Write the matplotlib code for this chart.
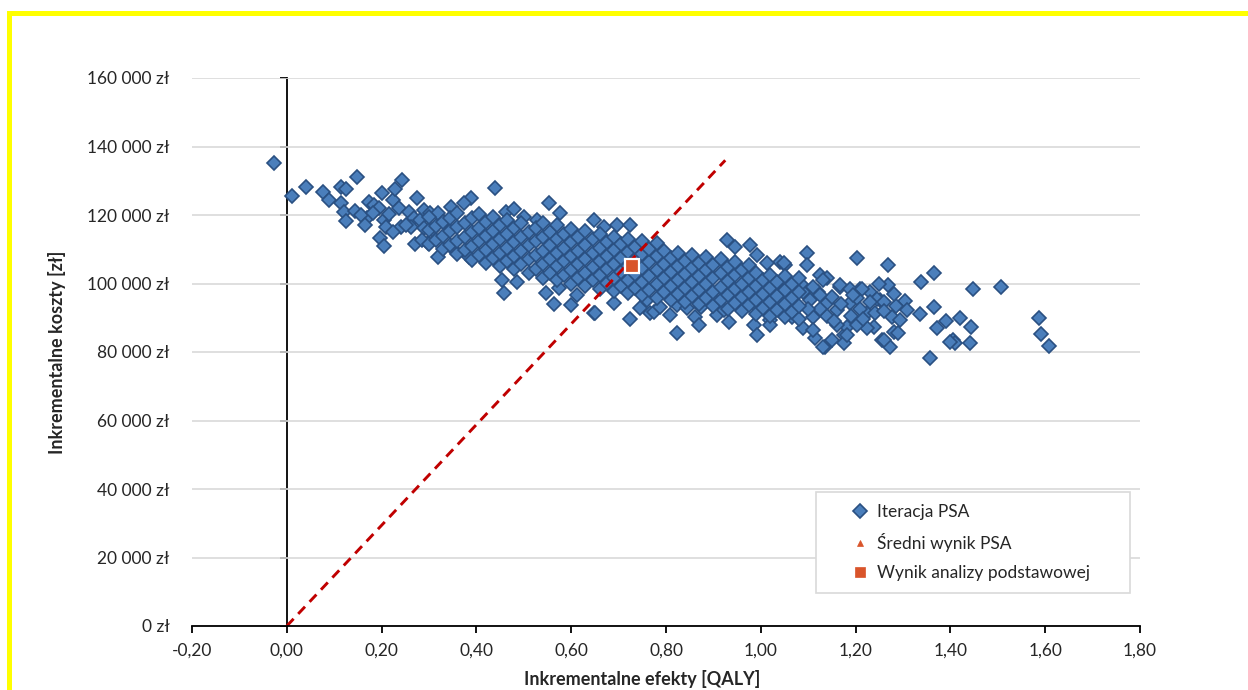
import matplotlib
matplotlib.use('Agg')
import matplotlib.pyplot as plt
from matplotlib.patches import Rectangle
from matplotlib.ticker import FuncFormatter, FixedLocator

plt.rcParams['font.family'] = ['Lato', 'DejaVu Sans']

# ---------------- data (QALY, cost in thousand zł) ----------------
# individually readable PSA iterations (edges / outliers of the cloud)
edge_x = [-0.027, 0.012, 0.040, 0.077, 0.089, 0.114, 0.124, 0.148, 0.114, 0.121,
          0.124, 0.144, 0.170, 0.173, 0.183, 0.195, 0.200, 0.196, 0.205, 0.205,
          0.209, 0.223, 0.228, 0.244, 0.237, 0.240, 0.258, 0.274, 0.268, 0.281,
          0.289, 0.270, 0.297, 0.303, 0.307, 0.318, 0.261, 0.289, 0.286, 0.156,
          0.166, 0.181, 0.215, 0.223, 0.251,
          0.440, 0.553, 0.388, 0.374, 0.346, 0.318, 0.332, 0.462, 0.479, 0.500,
          0.528, 0.577, 0.648, 0.669, 0.697, 0.724,
          0.356, 0.384, 0.458, 0.455, 0.486, 0.546, 0.563, 0.599, 0.648, 0.613,
          0.574, 0.651, 0.690, 0.725, 0.745, 0.767, 0.774, 0.823, 0.809, 0.862,
          0.869, 0.908, 0.932, 0.985, 0.992, 1.020, 1.090, 1.115, 1.136, 1.150,
          1.175, 1.182, 0.823, 0.844, 0.788, 0.760,
          0.929, 0.946, 0.978, 0.992, 1.097, 1.097, 1.203, 1.269, 1.269, 1.041,
          1.013, 1.052, 1.125, 1.139, 1.168, 1.210, 1.231, 1.252, 1.277, 1.280,
          1.273, 1.255, 1.238, 1.224, 1.189, 1.161, 1.139, 1.111, 1.104, 1.076,
          1.069, 1.041, 1.034, 1.013, 0.992, 0.964, 0.950, 0.922, 0.901, 0.873,
          1.338, 1.366, 1.447, 1.507, 1.305, 1.309, 1.335, 1.366, 1.294, 1.290,
          1.260, 1.390, 1.420, 1.371, 1.443, 1.406, 1.410, 1.442, 1.357, 1.587,
          1.591, 1.607,
          1.048, 1.132, 1.168, 1.189, 1.213, 1.203, 1.245, 1.259, 1.399, 1.223,
          1.132, 1.175, 1.182, 1.111, 1.066, 1.161, 1.203, 1.020,
          1.120, 1.140, 1.150, 1.170, 1.190, 1.210, 1.230, 1.110, 1.125, 1.155,
          1.100, 1.090, 1.085, 1.125, 1.195, 1.240, 1.215, 1.260, 1.285, 1.250,
          1.280]
edge_y = [135.3, 125.6, 128.3, 126.6, 124.4, 128.1, 127.5, 131.0, 123.6, 121.0,
          118.2, 121.2, 119.0, 123.9, 122.9, 122.0, 126.3, 113.2, 110.9, 118.5,
          116.6, 124.4, 127.5, 130.2, 122.0, 116.6, 121.0, 124.9, 119.0, 118.5,
          121.5, 111.4, 111.7, 120.5, 115.6, 107.8, 116.6, 116.1, 112.7, 120.0,
          117.1, 120.6, 120.3, 115.0, 117.1,
          127.8, 123.4, 124.9, 123.4, 122.4, 120.5, 118.0, 121.0, 121.7, 119.5,
          118.5, 120.5, 118.5, 116.6, 117.1, 117.1,
          109.3, 107.8, 97.1, 101.0, 100.5, 97.1, 94.0, 93.7, 91.3, 96.6,
          98.6, 91.3, 94.2, 89.5, 92.8, 91.3, 91.8, 85.5, 90.8, 90.3,
          87.9, 90.8, 88.8, 87.9, 85.0, 89.3, 86.9, 84.0, 81.5, 83.5,
          85.0, 87.4, 93.7, 92.8, 93.2, 95.2,
          112.7, 110.8, 111.2, 108.3, 108.8, 105.4, 107.4, 105.4, 99.6, 106.4,
          105.9, 105.4, 102.5, 101.5, 99.0, 98.5, 97.6, 95.2, 90.3, 85.9,
          81.5, 83.5, 87.4, 91.3, 94.2, 92.3, 94.2, 90.3, 95.2, 93.2,
          97.1, 95.2, 100.2, 96.2, 93.2, 93.2, 96.2, 92.3, 95.2, 93.2,
          100.3, 103.0, 98.5, 99.1, 95.0, 92.3, 91.1, 93.0, 89.3, 85.5,
          83.5, 89.1, 89.8, 86.9, 87.2, 83.5, 82.5, 82.5, 78.2, 90.0,
          85.2, 81.8,
          105.9, 101.0, 99.6, 98.5, 98.5, 95.9, 95.6, 94.6, 83.0, 86.9,
          81.5, 82.5, 85.0, 86.4, 90.3, 87.9, 87.9, 87.9,
          97.5, 90.5, 96.0, 94.0, 90.5, 92.5, 94.5, 99.0, 92.5, 89.0,
          92.5, 97.5, 100.0, 96.5, 96.5, 91.5, 89.5, 92.0, 93.5, 99.8,
          97.0]

# dense core of the cloud, read column by column (QALY column, costs in thousand zł)
core_x = [0.300, 0.315, 0.330, 0.345, 0.360, 0.375, 0.390, 0.405, 0.420, 0.435,
          0.450, 0.465, 0.480, 0.495, 0.510, 0.525, 0.540, 0.555, 0.570, 0.585,
          0.600, 0.615, 0.630, 0.645, 0.660, 0.675, 0.690, 0.705, 0.720, 0.735,
          0.750, 0.765, 0.780, 0.795, 0.810, 0.825, 0.840, 0.855, 0.870, 0.885,
          0.900, 0.915, 0.930, 0.945, 0.960, 0.975, 0.990, 1.005, 1.020, 1.035,
          1.050, 1.065, 1.080]
core_y = [[111.5, 115.5, 119.5], [112.7, 116.7], [110.0, 114.0, 118.0],
          [111.2, 115.2, 119.2], [108.5, 112.5, 116.5, 120.5], [109.7, 113.7, 117.7],
          [107.0, 111.0, 115.0, 119.0], [108.3, 112.3, 116.3, 120.3],
          [105.9, 109.9, 113.9, 117.9], [107.4, 111.4, 115.4, 119.4],
          [105.0, 109.0, 113.0, 117.0], [106.5, 110.5, 114.5, 118.5],
          [104.1, 108.1, 112.1, 116.1], [105.6, 109.6, 113.6, 117.6],
          [103.1, 107.1, 111.1, 115.1], [104.3, 108.3, 112.3, 116.3],
          [101.6, 105.6, 109.6, 113.6, 117.6], [103.1, 107.1, 111.1, 115.1],
          [101.0, 105.0, 109.0, 113.0, 117.0], [102.5, 106.5, 110.5, 114.5],
          [100.0, 104.0, 108.0, 112.0, 116.0], [101.6, 105.6, 109.6, 113.6],
          [99.2, 103.2, 107.2, 111.2, 115.2], [100.9, 104.9, 108.9, 112.9],
          [98.5, 102.5, 106.5, 110.5, 114.5], [100.1, 104.1, 108.1, 112.1],
          [97.7, 101.7, 105.7, 109.7, 113.7], [99.4, 103.4, 107.4, 111.4],
          [97.1, 101.1, 105.1, 109.1, 113.1], [98.8, 102.8, 106.8, 110.8],
          [96.5, 100.5, 104.5, 108.5, 112.5], [98.2, 102.2, 106.2, 110.2],
          [95.9, 99.9, 103.9, 107.9, 111.7], [97.6, 101.6, 105.6, 109.6],
          [95.3, 99.3, 103.3, 107.3], [97.0, 101.0, 105.0, 109.0],
          [94.7, 98.7, 102.7, 106.7], [96.4, 100.4, 104.4, 108.4],
          [94.1, 98.1, 102.1, 106.1], [95.8, 99.8, 103.8, 107.8],
          [93.5, 97.5, 101.5, 105.5], [95.1, 99.1, 103.1, 107.1],
          [92.7, 96.7, 100.7, 104.7], [94.4, 98.4, 102.4, 106.4],
          [92.0, 96.0, 100.0, 104.0], [93.6, 97.6, 101.6, 105.5],
          [91.2, 95.2, 99.2, 103.2], [92.9, 96.9, 100.9],
          [90.6, 94.6, 98.6, 102.6], [92.3, 96.3, 100.3],
          [90.1, 94.1, 98.1, 102.1], [91.8, 95.8, 99.8],
          [89.5, 93.5, 97.5, 101.5]]

mean_psa_x = [0.727]
mean_psa_y = [104.6]
base_x = [0.729]
base_y = [105.1]

wtp_threshold = 147.0      # thousand zł per QALY (slope of dashed line)
wtp_x = [0.0, 0.925]

x_ticks = [-0.2, 0.0, 0.2, 0.4, 0.6, 0.8, 1.0, 1.2, 1.4, 1.6, 1.8]
y_ticks = [0, 20000, 40000, 60000, 80000, 100000, 120000, 140000, 160000]

legend_labels = ['Iteracja PSA', 'Średni wynik PSA', 'Wynik analizy podstawowej']
xlabel = 'Inkrementalne efekty [QALY]'
ylabel = 'Inkrementalne koszty [zł]'

# ---------------- figure ----------------
W, H = 1248, 690
fig = plt.figure(figsize=(W / 100, H / 100), dpi=100)
ax = fig.add_axes([192 / W, 64 / H, 948 / W, 548 / H])

blue_fill = '#4A7EBB'
blue_edge = '#2A5082'
red = '#D9542A'
text_col = '#262626'

psa_x = edge_x + [x for x, ys in zip(core_x, core_y) for _ in ys]
psa_y = edge_y + [y for ys in core_y for y in ys]

h1, = ax.plot(psa_x, [v * 1000 for v in psa_y], linestyle='none', marker='D',
              ms=7.3, mfc=blue_fill, mec=blue_edge, mew=1.2, zorder=3)
ax.plot(wtp_x, [v * wtp_threshold * 1000 for v in wtp_x], color='#C00000',
        lw=2.1, dashes=(3.4, 2.3), zorder=4)
h2, = ax.plot(mean_psa_x, [v * 1000 for v in mean_psa_y], linestyle='none',
              marker='^', ms=5, mfc=red, mec=red, mew=0.5, zorder=5)
h3, = ax.plot(base_x, [v * 1000 for v in base_y], linestyle='none', marker='s',
              ms=9.5, mfc=red, mec='white', mew=1.6, zorder=6)

ax.set_xlim(-0.2, 1.8)
ax.set_ylim(0, 160000)
ax.xaxis.set_major_locator(FixedLocator(x_ticks))
ax.yaxis.set_major_locator(FixedLocator(y_ticks))


def xfmt(v, pos):
    s = f"{v:.2f}".replace('.', ',')
    return '0,00' if s == '-0,00' else s


def yfmt(v, pos):
    return f"{int(round(v)):,}".replace(',', ' ') + ' zł'


ax.xaxis.set_major_formatter(FuncFormatter(xfmt))
ax.yaxis.set_major_formatter(FuncFormatter(yfmt))

ax.grid(axis='y', color='#D9D9D9', lw=1.2)
ax.grid(axis='x', visible=False)
ax.set_axisbelow(True)

for s in ['top', 'right', 'left']:
    ax.spines[s].set_visible(False)
ax.spines['bottom'].set_color('black')
ax.spines['bottom'].set_linewidth(1.3)
ax.spines['bottom'].set_zorder(7)

ax.tick_params(axis='y', length=0, pad=16, labelsize=12.5, labelcolor=text_col)
ax.tick_params(axis='x', direction='out', length=5, width=1.3, color='black',
               pad=7, labelsize=12.5, labelcolor=text_col)

sec = ax.secondary_yaxis(0.1)
sec.set_yticks(y_ticks)
sec.set_yticklabels([])
sec.tick_params(direction='out', length=5, width=1.3, color='black')
for s in sec.spines.values():
    s.set_linewidth(1.3)
    s.set_color('black')

# legend box and entries
box = Rectangle((0.658, 0.0602), 0.3315, 0.1843, transform=ax.transAxes,
                facecolor='white', edgecolor='#D9D9D9', lw=1.2, zorder=8)
ax.add_patch(box)
leg = ax.legend([h1, h2, h3], legend_labels, loc='center left',
                bbox_to_anchor=(0.696, 0.152), frameon=False, borderaxespad=0,
                borderpad=0, handlelength=1.0, handletextpad=0.45,
                labelspacing=0.75, fontsize=12.5, numpoints=1)
leg.set_zorder(9)
for t in leg.get_texts():
    t.set_color(text_col)
lh = leg.legend_handles
lh[0].set_markersize(7.0)
lh[1].set_markersize(5.0)
lh[2].set_markersize(7.5)
lh[2].set_markeredgecolor(red)
lh[2].set_markeredgewidth(0.5)

fig.text(57.5 / W, 1 - 352 / H, ylabel, rotation=90, ha='center', va='center',
         fontsize=13, fontweight='bold', color=text_col)
fig.text(642 / W, 1 - 685 / H, xlabel, ha='center', va='baseline',
         fontsize=13, fontweight='bold', color=text_col)

# yellow frame (top and left)
fig.patches.append(Rectangle((7 / W, (H - 16) / H), 1241 / W, 5.3 / H,
                             transform=fig.transFigure, facecolor='#FFFF00',
                             edgecolor='none', zorder=10))
fig.patches.append(Rectangle((7 / W, 0), 5 / W, (H - 10.7) / H,
                             transform=fig.transFigure, facecolor='#FFFF00',
                             edgecolor='none', zorder=10))

fig.savefig('out.png', dpi=100)
